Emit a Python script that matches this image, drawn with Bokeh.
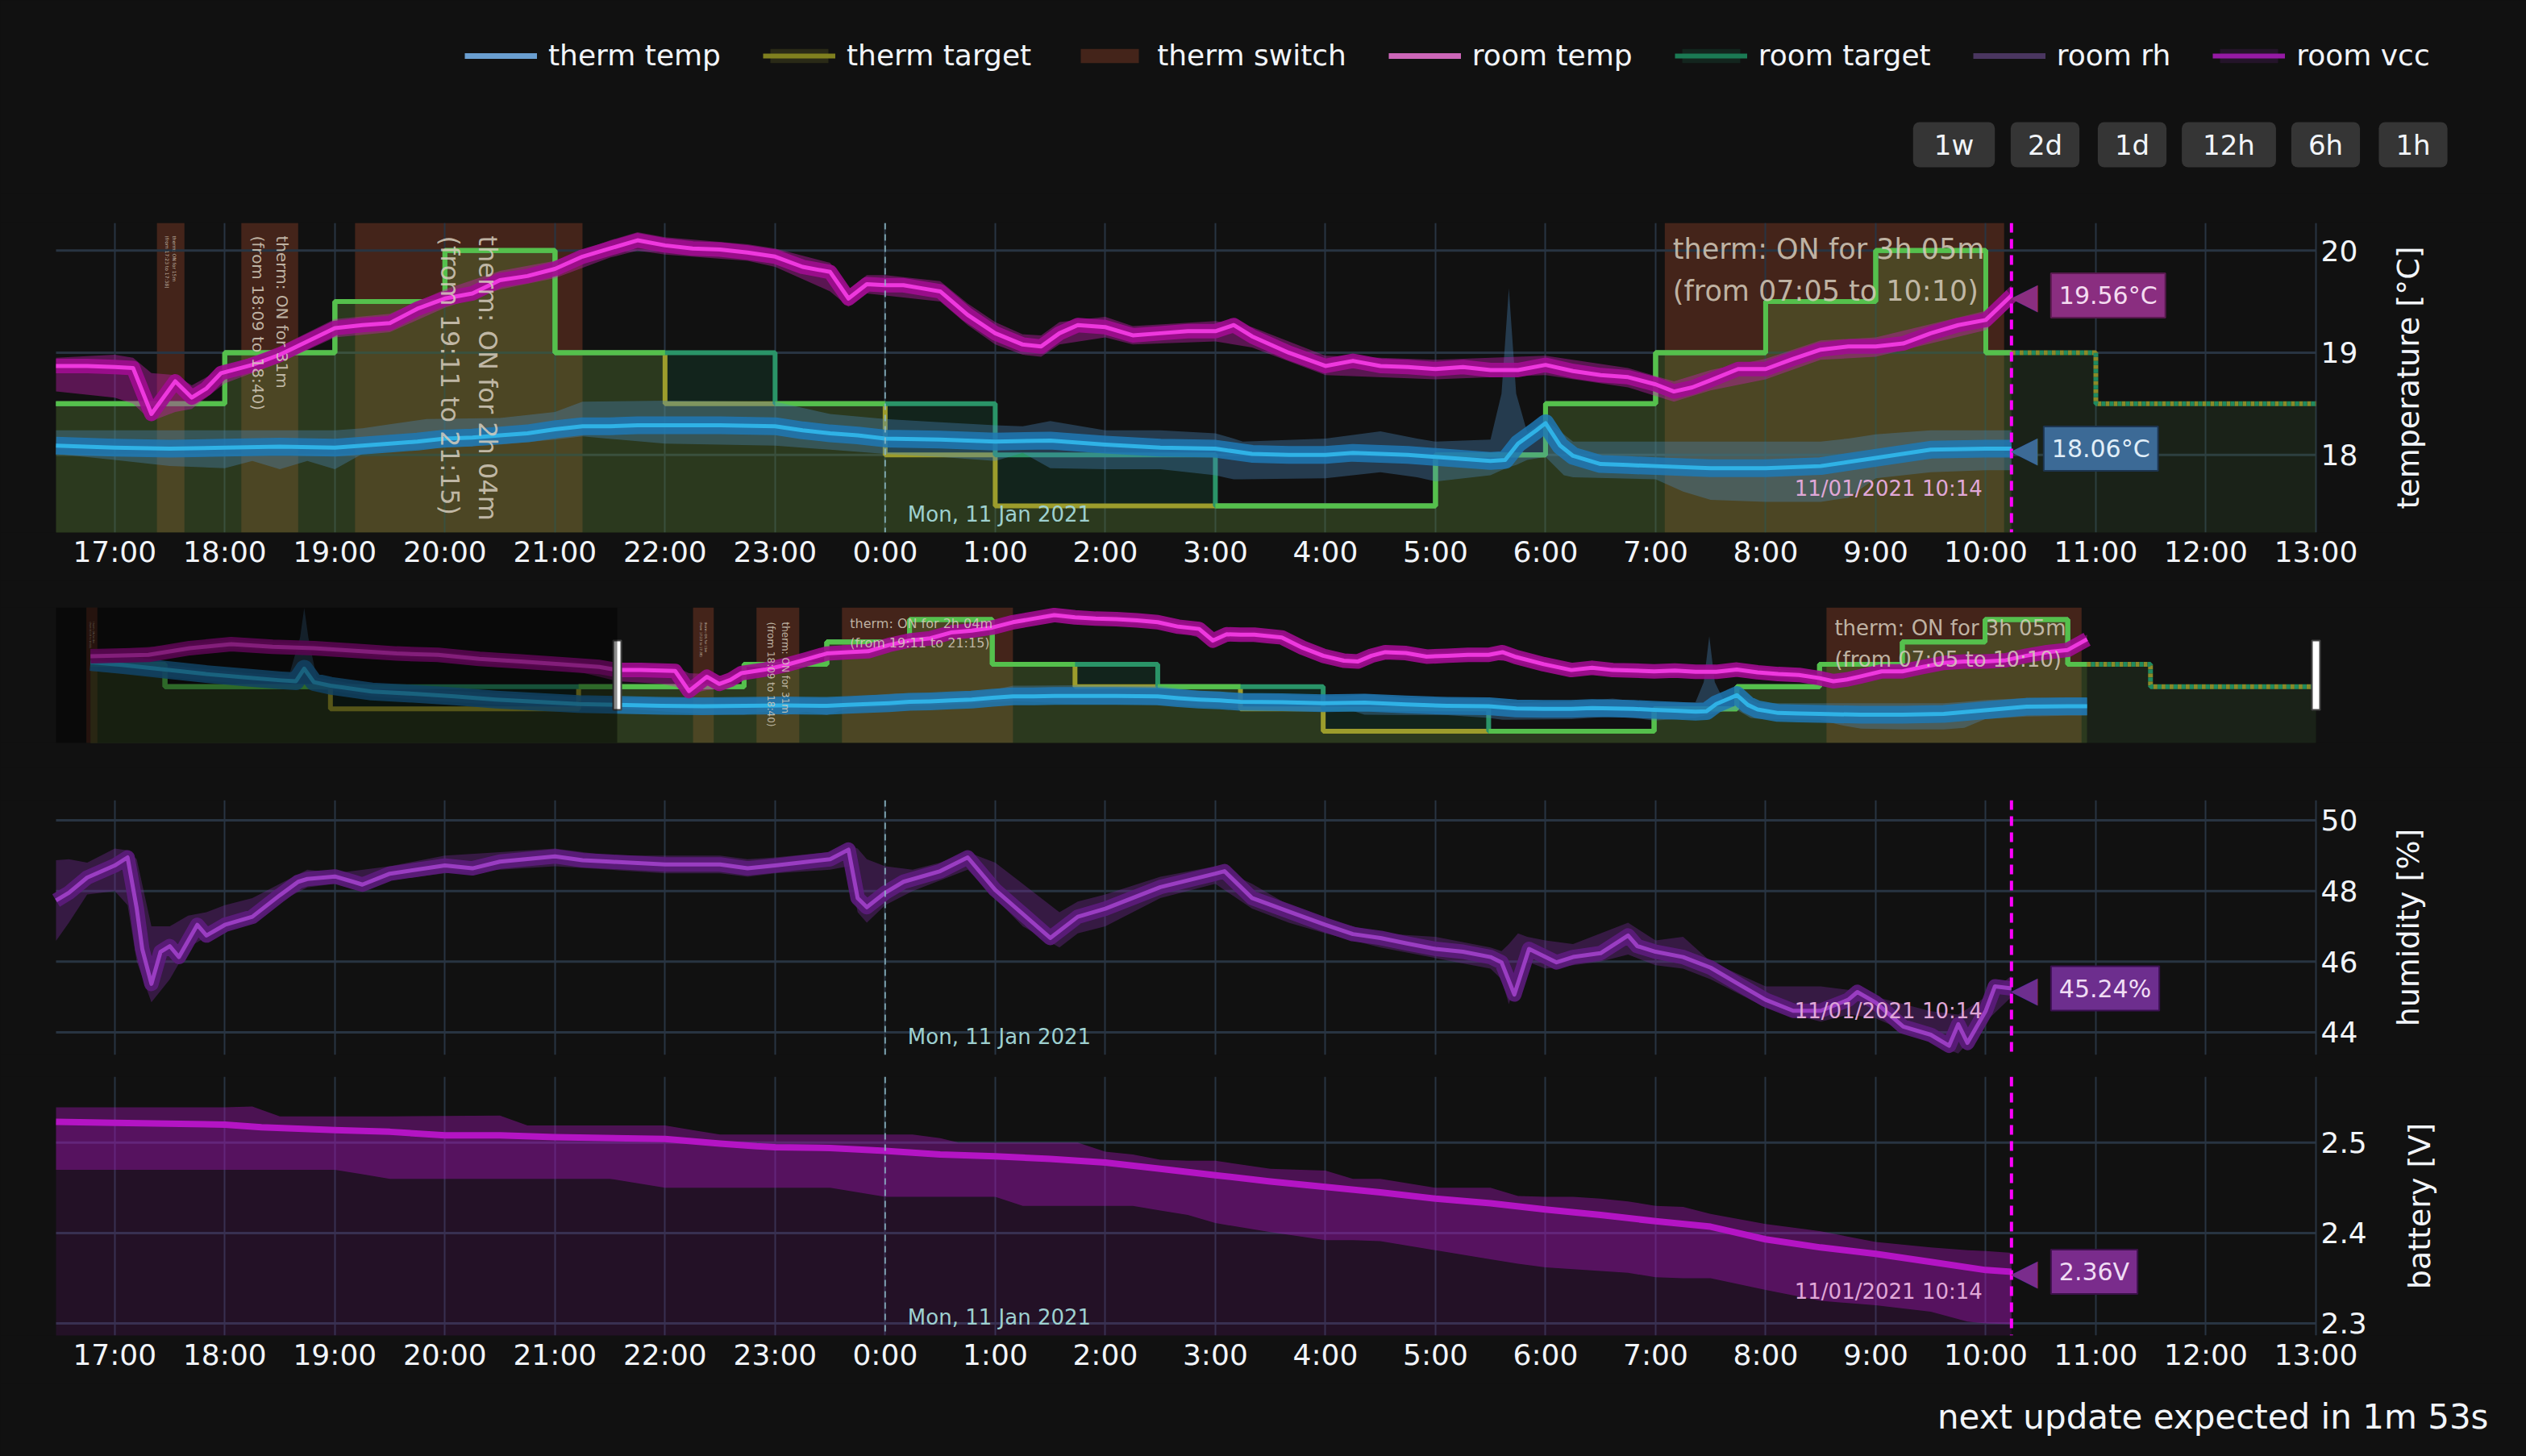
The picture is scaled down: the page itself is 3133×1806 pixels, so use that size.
import math
from datetime import datetime, timedelta
import numpy as np
from bokeh.plotting import figure
from bokeh.layouts import column
from bokeh.models import (Range1d, LinearAxis, FixedTicker, Grid, Span, BoxAnnotation,
                          Label, Legend, LegendItem)
from bokeh.core.properties import value
from bokeh.embed import file_html
from bokeh.resources import INLINE

# ============================ DATA ============================
BASE_DAY = datetime(2021, 1, 10)
NOW = "11 10:14"
DATA_START = "10 10:06"
MIDNIGHT = "11 00:00"
VIEW = ("10 16:28", "11 13:00")
NAV_VIEW = ("10 09:41", "11 13:00")

legend_labels = ["therm temp", "therm target", "therm switch", "room temp",
                 "room target", "room rh", "room vcc"]
range_buttons = ["1w", "2d", "1d", "12h", "6h", "1h"]
footer_text = "next update expected in 1m 53s"
axis_titles = ["temperature [°C]", "humidity [%]", "battery [V]"]
temp_ticks = [18, 19, 20]
rh_ticks = [44, 46, 48, 50]
vcc_ticks = [2.3, 2.4, 2.5]

room_temp = [("10:06", 19.18), ("10:48", 19.21), ("11:18", 19.36), ("11:48", 19.45), ("12:18", 19.39),
             ("12:48", 19.36), ("13:18", 19.30), ("13:48", 19.24), ("14:18", 19.21), ("14:48", 19.12),
             ("15:18", 19.06), ("15:48", 19.00), ("16:15", 18.94), ("16:28", 18.87), ("16:45", 18.87),
             ("17:00", 18.86), ("17:10", 18.85), ("17:20", 18.40), ("17:33", 18.72), ("17:42", 18.56),
             ("17:50", 18.65), ("17:58", 18.80), ("18:15", 18.88), ("18:30", 18.98), ("18:45", 19.11),
             ("19:00", 19.24), ("19:15", 19.27), ("19:30", 19.29), ("19:45", 19.43), ("20:00", 19.53),
             ("20:15", 19.58), ("20:30", 19.71), ("20:45", 19.75), ("21:00", 19.82), ("21:15", 19.94),
             ("21:30", 20.02), ("21:45", 20.10), ("22:00", 20.05), ("22:15", 20.02), ("22:30", 20.01),
             ("22:45", 19.98), ("23:00", 19.94), ("23:15", 19.84), ("23:30", 19.79), ("23:40", 19.53),
             ("23:50", 19.67), ("0:00", 19.66), ("0:10", 19.66), ("0:20", 19.63), ("0:30", 19.60),
             ("0:45", 19.37), ("1:00", 19.19), ("1:15", 19.08), ("1:25", 19.06), ("1:35", 19.19),
             ("1:45", 19.27), ("2:00", 19.25), ("2:15", 19.17), ("2:30", 19.19), ("2:45", 19.21),
             ("3:00", 19.21), ("3:10", 19.27), ("3:20", 19.16), ("3:40", 19.00), ("4:00", 18.87),
             ("4:15", 18.92), ("4:30", 18.87), ("4:45", 18.86), ("5:00", 18.84), ("5:15", 18.86),
             ("5:30", 18.83), ("5:45", 18.83), ("6:00", 18.88), ("6:15", 18.82), ("6:30", 18.78),
             ("6:45", 18.76), ("7:00", 18.69), ("7:10", 18.62), ("7:20", 18.66), ("7:30", 18.73),
             ("7:45", 18.84), ("8:00", 18.84), ("8:15", 18.94), ("8:30", 19.03), ("8:45", 19.06),
             ("9:00", 19.06), ("9:15", 19.09), ("9:30", 19.19), ("9:45", 19.27), ("10:00", 19.32),
             ("10:14", 19.56)]

room_temp_band = [("10:06", 19.05, 19.30), ("11:18", 19.25, 19.45), ("11:48", 19.35, 19.55),
                  ("12:48", 19.27, 19.45), ("13:48", 19.15, 19.33), ("14:48", 19.03, 19.22),
                  ("15:48", 18.92, 19.10), ("16:28", 18.62, 18.95), ("17:00", 18.56, 18.98),
                  ("17:10", 18.50, 18.95), ("17:20", 18.33, 18.80), ("17:33", 18.42, 18.78),
                  ("17:42", 18.45, 18.68), ("18:00", 18.70, 18.86), ("18:30", 18.90, 19.06),
                  ("19:00", 19.15, 19.33), ("19:30", 19.20, 19.38), ("20:00", 19.44, 19.62),
                  ("20:30", 19.62, 19.80), ("21:00", 19.73, 19.90), ("21:30", 19.93, 20.10),
                  ("21:45", 20.00, 20.18), ("22:00", 19.96, 20.13), ("22:45", 19.90, 20.06),
                  ("23:00", 19.84, 20.02), ("23:30", 19.60, 19.88), ("23:40", 19.45, 19.62),
                  ("23:50", 19.58, 19.76), ("0:00", 19.56, 19.76), ("0:30", 19.50, 19.70),
                  ("0:45", 19.27, 19.48), ("1:00", 19.08, 19.30), ("1:15", 18.98, 19.18),
                  ("1:25", 18.96, 19.17), ("1:35", 19.08, 19.30), ("2:00", 19.15, 19.35),
                  ("2:15", 19.08, 19.26), ("3:00", 19.11, 19.31), ("3:20", 19.05, 19.25),
                  ("4:00", 18.78, 18.97), ("5:00", 18.74, 18.93), ("6:00", 18.78, 18.97),
                  ("6:45", 18.66, 18.85), ("7:10", 18.52, 18.72), ("7:30", 18.63, 18.83),
                  ("8:00", 18.74, 18.94), ("8:30", 18.93, 19.12), ("9:00", 18.96, 19.15),
                  ("9:30", 19.09, 19.28), ("10:00", 19.22, 19.41), ("10:14", 19.46, 19.66)]

therm_temp = [("10:06", 19.05), ("10:30", 18.98), ("11:00", 18.88), ("11:30", 18.78), ("12:00", 18.70),
              ("12:24", 18.64), ("12:35", 18.62), ("12:41", 18.90), ("12:48", 18.60), ("13:00", 18.52),
              ("13:30", 18.39), ("14:00", 18.34), ("14:30", 18.28), ("15:00", 18.21), ("15:30", 18.16),
              ("16:00", 18.11), ("16:28", 18.09), ("17:00", 18.07), ("17:30", 18.06), ("18:00", 18.07),
              ("18:30", 18.08), ("19:00", 18.07), ("19:15", 18.09), ("19:30", 18.11), ("19:45", 18.13),
              ("20:00", 18.16), ("20:15", 18.17), ("20:30", 18.19), ("20:45", 18.21), ("21:00", 18.25),
              ("21:15", 18.28), ("21:30", 18.28), ("21:45", 18.29), ("22:00", 18.29), ("22:30", 18.29),
              ("23:00", 18.28), ("23:15", 18.24), ("23:30", 18.21), ("23:45", 18.19), ("0:00", 18.16),
              ("0:30", 18.15), ("1:00", 18.13), ("1:30", 18.14), ("2:00", 18.10), ("2:30", 18.07),
              ("3:00", 18.06), ("3:20", 18.01), ("3:40", 18.00), ("4:00", 18.00), ("4:15", 18.02),
              ("4:30", 18.01), ("4:45", 18.00), ("5:00", 17.98), ("5:15", 17.96), ("5:30", 17.94),
              ("5:38", 17.95), ("5:45", 18.11), ("5:55", 18.24), ("6:00", 18.31), ("6:08", 18.09),
              ("6:15", 17.99), ("6:30", 17.91), ("6:45", 17.90), ("7:00", 17.89), ("7:30", 17.87),
              ("8:00", 17.87), ("8:30", 17.89), ("9:00", 17.97), ("9:30", 18.05), ("10:00", 18.06),
              ("10:14", 18.06)]

therm_temp_band = [("10:06", 18.85, 19.15), ("11:00", 18.72, 18.98), ("12:00", 18.55, 18.80),
                   ("12:30", 18.50, 18.75), ("12:38", 18.50, 19.60), ("12:41", 18.55, 20.26),
                   ("12:44", 18.50, 19.60), ("12:50", 18.45, 18.70), ("13:30", 18.28, 18.50),
                   ("14:30", 18.15, 18.40), ("15:30", 18.05, 18.30), ("16:28", 18.01, 18.24),
                   ("17:00", 17.95, 18.24), ("17:30", 17.89, 18.24), ("18:00", 17.87, 18.24),
                   ("18:15", 17.94, 18.24), ("18:30", 17.86, 18.24), ("18:45", 17.94, 18.24),
                   ("19:00", 17.86, 18.24), ("19:15", 18.01, 18.26), ("19:30", 18.04, 18.30),
                   ("19:50", 18.06, 18.35), ("20:30", 18.10, 18.36), ("21:00", 18.15, 18.42),
                   ("21:15", 18.18, 18.52), ("22:00", 18.11, 18.53), ("23:00", 18.09, 18.52),
                   ("23:30", 18.05, 18.40), ("0:00", 18.01, 18.35), ("0:30", 17.98, 18.32),
                   ("1:00", 17.94, 18.29), ("1:15", 18.02, 18.28), ("1:30", 17.87, 18.33),
                   ("2:00", 17.86, 18.24), ("2:30", 17.86, 18.24), ("3:00", 17.80, 18.21),
                   ("3:10", 17.76, 18.16), ("3:15", 17.76, 18.13), ("4:00", 17.77, 18.16),
                   ("4:30", 17.83, 18.23), ("4:50", 17.78, 18.16), ("5:00", 17.74, 18.13),
                   ("5:30", 17.80, 18.15), ("5:36", 17.85, 18.60), ("5:40", 17.88, 19.63),
                   ("5:44", 17.90, 18.60), ("5:50", 17.95, 18.22), ("6:00", 17.98, 18.34),
                   ("6:10", 17.80, 18.20), ("6:15", 17.78, 18.13), ("7:00", 17.76, 18.13),
                   ("7:15", 17.64, 18.13), ("7:30", 17.56, 18.13), ("8:00", 17.54, 18.13),
                   ("8:30", 17.54, 18.13), ("8:45", 17.58, 18.16), ("9:00", 17.77, 18.20),
                   ("9:30", 17.83, 18.24), ("10:00", 17.85, 18.24), ("10:14", 17.85, 18.24)]

target_times = ["10:00", "11:00", "12:00", "13:00", "14:00", "15:00", "16:00", "17:00", "18:00",
                "19:00", "20:00", "21:00", "22:00", "23:00", "0:00", "1:00", "2:00", "3:00",
                "4:00", "5:00", "6:00", "7:00", "8:00", "9:00", "10:00", "11:00", "12:00"]
therm_target = [19.0, 18.5, 18.5, 18.0, 18.0, 18.0, 18.5, 18.5, 19.0, 19.5, 20.0, 19.0, 18.5, 18.5,
                18.0, 17.5, 17.5, 17.5, 17.5, 18.0, 18.5, 19.0, 19.5, 20.0, 19.0, 18.5, 18.5]
room_target = [19.0, 18.5, 18.5, 18.5, 18.5, 18.5, 18.5, 18.5, 19.0, 19.5, 20.0, 19.0, 19.0, 18.5,
               18.5, 18.0, 18.0, 17.5, 17.5, 18.0, 18.5, 19.0, 19.5, 20.0, 19.0, 18.5, 18.5]

therm_switch = [("10 10:03", "10 10:11"), ("10 17:23", "10 17:38"), ("10 18:09", "10 18:40"),
                ("10 19:11", "10 21:15"), ("11 07:05", "11 10:10")]

room_rh = [("16:28", 47.73), ("16:35", 47.95), ("16:45", 48.38), ("17:00", 48.72), ("17:07", 48.95),
           ("17:12", 47.50), ("17:15", 46.36), ("17:20", 45.37), ("17:25", 46.28), ("17:30", 46.44),
           ("17:35", 46.13), ("17:45", 47.04), ("17:50", 46.74), ("18:00", 47.04), ("18:15", 47.27),
           ("18:30", 47.88), ("18:40", 48.26), ("18:45", 48.34), ("19:00", 48.41), ("19:10", 48.26),
           ("19:15", 48.18), ("19:30", 48.49), ("20:00", 48.72), ("20:15", 48.64), ("20:30", 48.83),
           ("21:00", 48.98), ("21:15", 48.87), ("21:30", 48.83), ("22:00", 48.75), ("22:30", 48.75),
           ("22:45", 48.64), ("23:00", 48.72), ("23:30", 48.90), ("23:40", 49.17), ("23:45", 47.80),
           ("23:50", 47.54), ("0:00", 47.95), ("0:10", 48.26), ("0:30", 48.56), ("0:45", 48.95),
           ("1:00", 48.03), ("1:15", 47.35), ("1:30", 46.67), ("1:45", 47.27), ("2:00", 47.50),
           ("2:30", 48.11), ("3:00", 48.49), ("3:05", 48.56), ("3:20", 47.80), ("3:40", 47.42),
           ("4:00", 47.04), ("4:15", 46.78), ("4:30", 46.67), ("4:45", 46.51), ("5:00", 46.36),
           ("5:15", 46.28), ("5:30", 46.13), ("5:36", 45.98), ("5:43", 45.07), ("5:51", 46.36),
           ("6:06", 45.98), ("6:15", 46.13), ("6:30", 46.24), ("6:45", 46.74), ("6:50", 46.44),
           ("7:00", 46.28), ("7:15", 46.13), ("7:30", 45.83), ("7:45", 45.37), ("8:00", 44.92),
           ("8:15", 44.61), ("8:30", 44.61), ("8:45", 44.92), ("8:50", 45.14), ("9:00", 44.84),
           ("9:15", 44.16), ("9:30", 43.93), ("9:40", 43.62), ("9:45", 44.23), ("9:50", 43.70),
           ("10:00", 44.61), ("10:05", 45.30), ("10:14", 45.24)]

room_rh_band = [("16:28", 46.59, 48.87), ("16:35", 47.1, 48.9), ("16:45", 47.9, 48.8), ("17:00", 48.0, 49.2),
                ("17:07", 47.6, 49.15), ("17:12", 46.0, 48.9), ("17:20", 44.85, 47.0), ("17:30", 45.5, 47.0),
                ("17:40", 46.4, 47.3), ("17:50", 46.7, 47.4), ("18:00", 46.9, 47.6), ("18:15", 47.1, 47.8),
                ("18:30", 47.7, 48.2), ("18:45", 48.1, 48.6), ("19:00", 48.2, 48.5), ("19:30", 48.3, 48.7),
                ("20:00", 48.5, 49.0), ("20:30", 48.6, 49.1), ("21:00", 48.7, 49.2), ("21:30", 48.6, 49.0),
                ("22:00", 48.5, 49.0), ("22:30", 48.5, 49.0), ("22:45", 48.4, 48.9), ("23:00", 48.5, 48.95),
                ("23:30", 48.6, 49.1), ("23:40", 48.7, 49.3), ("23:45", 47.4, 49.2), ("23:50", 47.1, 48.9),
                ("0:00", 47.6, 48.7), ("0:15", 48.0, 48.6), ("0:30", 48.3, 48.8), ("0:45", 48.6, 49.1),
                ("1:00", 47.8, 48.8), ("1:15", 47.0, 48.2), ("1:35", 46.4, 47.4), ("1:45", 46.8, 47.7),
                ("2:00", 47.0, 47.9), ("2:30", 47.8, 48.4), ("3:00", 48.2, 48.7), ("3:20", 47.5, 48.2),
                ("3:40", 47.1, 47.6), ("4:00", 46.8, 47.2), ("4:30", 46.4, 46.8), ("5:00", 46.1, 46.7),
                ("5:30", 45.8, 46.4), ("5:36", 45.5, 46.3), ("5:40", 44.8, 46.5), ("5:45", 45.6, 46.8),
                ("5:50", 46.0, 46.7), ("6:00", 45.8, 46.6), ("6:15", 45.9, 46.5), ("6:30", 46.0, 46.8),
                ("6:45", 46.2, 47.1), ("7:00", 45.9, 46.6), ("7:15", 45.8, 46.7), ("7:30", 45.5, 46.0),
                ("8:00", 44.7, 45.3), ("8:30", 44.3, 45.3), ("8:45", 44.5, 45.2), ("9:00", 44.4, 45.0),
                ("9:30", 43.7, 44.6), ("9:45", 43.4, 44.5), ("10:00", 44.3, 45.0), ("10:14", 45.0, 45.6)]

room_vcc = [("16:28", 2.523), ("17:00", 2.522), ("18:00", 2.520), ("18:20", 2.517), ("19:00", 2.514),
            ("19:30", 2.512), ("20:00", 2.508), ("20:30", 2.508), ("21:00", 2.506), ("22:00", 2.504),
            ("22:30", 2.499), ("22:50", 2.496), ("23:00", 2.495), ("23:30", 2.494), ("0:00", 2.491),
            ("0:30", 2.487), ("1:00", 2.485), ("1:30", 2.482), ("2:00", 2.478), ("2:30", 2.471),
            ("3:00", 2.464), ("3:30", 2.457), ("4:00", 2.451), ("4:30", 2.445), ("5:00", 2.438),
            ("5:30", 2.433), ("6:00", 2.426), ("6:30", 2.420), ("7:00", 2.413), ("7:30", 2.407),
            ("8:00", 2.393), ("8:30", 2.384), ("9:00", 2.377), ("9:30", 2.368), ("10:00", 2.359),
            ("10:14", 2.357)]

room_vcc_band = [("16:28", 2.470, 2.539), ("18:00", 2.470, 2.539), ("18:15", 2.470, 2.540),
                 ("18:30", 2.470, 2.529), ("19:00", 2.470, 2.529), ("19:15", 2.465, 2.529),
                 ("19:30", 2.460, 2.529), ("20:30", 2.460, 2.530), ("20:45", 2.460, 2.519),
                 ("21:30", 2.460, 2.519), ("22:00", 2.450, 2.519), ("22:15", 2.450, 2.514),
                 ("22:30", 2.450, 2.509), ("23:30", 2.450, 2.509), ("0:00", 2.440, 2.509),
                 ("0:15", 2.440, 2.509), ("0:30", 2.440, 2.505), ("0:40", 2.440, 2.500),
                 ("1:00", 2.440, 2.500), ("1:15", 2.430, 2.500), ("1:45", 2.430, 2.500),
                 ("2:00", 2.430, 2.490), ("2:15", 2.430, 2.487), ("2:30", 2.425, 2.481),
                 ("2:45", 2.420, 2.480), ("3:00", 2.411, 2.480), ("3:30", 2.401, 2.471),
                 ("4:00", 2.392, 2.469), ("4:15", 2.392, 2.460), ("4:30", 2.391, 2.460),
                 ("5:00", 2.381, 2.450), ("5:30", 2.371, 2.450), ("5:45", 2.366, 2.441),
                 ("6:00", 2.362, 2.440), ("6:15", 2.360, 2.440), ("6:30", 2.358, 2.438),
                 ("6:45", 2.356, 2.435), ("7:00", 2.351, 2.430), ("7:15", 2.350, 2.429),
                 ("7:30", 2.350, 2.421), ("8:00", 2.337, 2.410), ("8:30", 2.325, 2.402),
                 ("9:00", 2.320, 2.390), ("9:30", 2.313, 2.384), ("9:50", 2.302, 2.381),
                 ("10:00", 2.300, 2.380), ("10:14", 2.299, 2.378)]

# ============================ HELPERS ============================
def t_of(s):
    d, hm = s.split()
    h, m = hm.split(":")
    return (int(d) - 10) * 24 + int(h) + int(m) / 60.0


def seq_hours(times, day=10):
    out, prev = [], None
    for s in times:
        h, m = s.split(":")
        v = int(h) + int(m) / 60.0
        if prev is not None and v < prev:
            day += 1
        prev = v
        out.append((day - 10) * 24 + v)
    return np.array(out)


def cols(rows):
    x = seq_hours([r[0] for r in rows])
    return [x] + [np.array([r[i] for r in rows]) for i in range(1, len(rows[0]))]


def clip(lo, x, *ys):
    m = x >= lo - 1e-9
    return [x[m]] + [y[m] for y in ys]


def to_dt(h):
    return BASE_DAY + timedelta(hours=h)


now = t_of(NOW)
start = t_of(DATA_START)
midnight = t_of(MIDNIGHT)
xv = (t_of(VIEW[0]), t_of(VIEW[1]))
xn = (t_of(NAV_VIEW[0]), t_of(NAV_VIEW[1]))
tg_h = seq_hours(target_times)

rt_x, rt_y = cols(room_temp)
rtb_x, rtb_lo, rtb_hi = cols(room_temp_band)
tt_x, tt_y = cols(therm_temp)
ttb_x, ttb_lo, ttb_hi = cols(therm_temp_band)
rh_x, rh_y = cols(room_rh)
rhb_x, rhb_lo, rhb_hi = cols(room_rh_band)
vc_x, vc_y = cols(room_vcc)
vcb_x, vcb_lo, vcb_hi = cols(room_vcc_band)
sw = [(t_of(a), t_of(b), a.split()[1], b.split()[1]) for a, b in therm_switch]


def step_xy(vals, lo, hi):
    xs, ys = [], []
    for h, v in zip(tg_h, vals):
        a, b = max(h, lo), min(h + 1, hi)
        if b > a:
            xs += [a, b]
            ys += [v, v]
    return xs, ys


def equal_runs(lo, hi):
    runs_x, runs_y, cx, cy = [], [], [], []
    for h, a, b in zip(tg_h, therm_target, room_target):
        l, r = max(h, lo), min(h + 1, hi)
        if r <= l:
            continue
        if a == b:
            cx += [l, r]
            cy += [a, a]
        elif cx:
            runs_x.append(cx)
            runs_y.append(cy)
            cx, cy = [], []
    if cx:
        runs_x.append(cx)
        runs_y.append(cy)
    return runs_x, runs_y


# ============================ STYLE ============================
W = 3133
PL, PR = 69, 261          # plot-area margins inside each full-width frame
PW = W - PL - PR
BG = "#111111"
GRID = "#283442"
FONT = "DejaVu Sans"
TXT = "#f2f5fa"
Y_TEMP = (17.24, 20.27)
Y_RH = (43.36, 50.57)
Y_VCC = (2.2866, 2.573)

THERM_LINE, ROOM_LINE, BOTH_LINE = "#9c9c2c", "#2a9468", "#55c04c"
THERM_FILL, ROOM_FILL = "#808028", "#1a7a50"
SWITCH_C = "#44241a"


def padded(xr):
    s = PW / (xr[1] - xr[0])
    return (xr[0] - PL / s, xr[1] + PR / s), s


def panel(height, xr, yr, top, bottom):
    (a, b), _ = padded(xr)
    return figure(width=W, height=height, x_range=Range1d(a, b), y_range=Range1d(*yr),
                  x_axis_type=None, y_axis_type=None, output_backend="svg",
                  toolbar_location=None, min_border_left=0, min_border_right=0,
                  min_border_top=top, min_border_bottom=bottom,
                  background_fill_color=BG, border_fill_color=BG, outline_line_color=None)


hour_ticks = list(range(17, 38))


def add_grid_axes(p, yr, yticks, ylabel, xlabels, title_dx):
    xt = FixedTicker(ticks=hour_ticks)
    p.add_layout(Grid(dimension=0, ticker=xt, grid_line_color=GRID, grid_line_width=2))
    p.segment(x0=[xv[0]] * len(yticks), x1=[xv[1]] * len(yticks), y0=yticks, y1=yticks,
              line_color=GRID, line_width=3, level="underlay")
    if xlabels:
        ax = LinearAxis(ticker=xt, major_label_overrides={h: f"{h % 24}:00" for h in hour_ticks},
                        axis_line_color=None, major_tick_line_color=None, minor_tick_line_color=None,
                        major_tick_out=0, major_tick_in=0,
                        major_label_text_font=FONT, major_label_text_font_size="36px",
                        major_label_text_color=TXT, major_label_standoff=3)
        p.add_layout(ax, "below")
    p.text(x=[xv[1]] * len(yticks), y=yticks, text=[f"{t:g}" for t in yticks], x_offset=6,
           text_align="left", text_baseline="middle", text_font=value(FONT),
           text_font_size=value("36px"), text_color=TXT)
    p.text(x=[xv[1]], y=[(yr[0] + yr[1]) / 2], text=[ylabel], x_offset=title_dx,
           angle=math.pi / 2, text_align="center", text_baseline="middle",
           text_font=value(FONT), text_font_size=value("38px"), text_color=TXT)


def draw_temp(p, xr, yr, frame_h, ann_cfg, v_off, h_off):
    _, ppx = padded(xr)
    ppy = frame_h / (yr[1] - yr[0])
    lo = max(start, xr[0])
    for a, b, _, _ in sw:
        if b > xr[0]:
            p.add_layout(BoxAnnotation(left=a, right=b, fill_color=SWITCH_C, fill_alpha=1.0,
                                       line_alpha=0, level="image"))
    rx, ry = step_xy(room_target, lo, now)
    tx, ty = step_xy(therm_target, lo, now)
    rxf, ryf = step_xy(room_target, now, xr[1])
    txf, tyf = step_xy(therm_target, now, xr[1])
    p.varea(x=rx, y1=0, y2=ry, fill_color=ROOM_FILL, fill_alpha=0.19)
    p.varea(x=tx, y1=0, y2=ty, fill_color=THERM_FILL, fill_alpha=0.23)
    p.varea(x=rxf, y1=0, y2=ryf, fill_color=ROOM_FILL, fill_alpha=0.10)
    p.varea(x=txf, y1=0, y2=tyf, fill_color=THERM_FILL, fill_alpha=0.08)
    p.line(tx, ty, line_color=THERM_LINE, line_width=6)
    p.line(rx, ry, line_color=ROOM_LINE, line_width=6)
    bx, by = equal_runs(lo, now)
    p.multi_line(bx, by, line_color=BOTH_LINE, line_width=6)
    p.line(txf, tyf, line_color="#8a8a28", line_width=6, line_dash="5 5")
    p.line(rxf, ryf, line_color="#1f8a60", line_width=6, line_dash="5 5", line_dash_offset=5)
    # therm temp
    bxs, blo, bhi = clip(xr[0], ttb_x, ttb_lo, ttb_hi)
    lx, ly = clip(xr[0], tt_x, tt_y)
    p.varea(x=bxs, y1=blo, y2=bhi, fill_color="#4a8ac0", fill_alpha=0.35)
    p.line(lx, ly, line_color="#1f78b4", line_width=22, line_alpha=0.85, line_join="round")
    p.line(lx, ly, line_color="#2fb2e6", line_width=5, line_join="round")
    # room temp
    bxs, blo, bhi = clip(xr[0], rtb_x, rtb_lo, rtb_hi)
    lx, ly = clip(xr[0], rt_x, rt_y)
    p.varea(x=bxs, y1=blo, y2=bhi, fill_color="#c81eb4", fill_alpha=0.40)
    p.line(lx, ly, line_color="#a00c90", line_width=18, line_alpha=0.9, line_join="round")
    p.line(lx, ly, line_color="#ee38de", line_width=5, line_join="round")
    # switch annotations
    for (a, b, sa, sb), cfg in zip(sw, ann_cfg):
        if cfg is None or b < xr[0]:
            continue
        mins = round((b - a) * 60)
        dur = f"{mins // 60}h {mins % 60:02d}m" if mins >= 60 else f"{mins}m"
        txt = f"therm: ON for {dur}\n(from {sa} to {sb})"
        orient, fs = cfg
        if orient == "v":
            p.text(x=[(a + b) / 2], y=[yr[1] - v_off / ppy], text=[txt], angle=-math.pi / 2,
                   text_align="left", text_baseline="middle", text_font=value(FONT),
                   text_font_size=value(f"{fs}px"), text_color="#d6cdbd", text_alpha=0.85,
                   text_line_height=1.25)
        else:
            p.text(x=[a + 10 / ppx], y=[yr[1] - h_off / ppy], text=[txt], text_align="left",
                   text_baseline="top", text_font=value(FONT), text_font_size=value(f"{fs}px"),
                   text_color="#d6cdbd", text_alpha=0.85, text_line_height=1.3)


def add_time_marks(p, yr):
    p.add_layout(Span(location=midnight, dimension="height", line_color="#8fbcc8",
                      line_dash="8 6", line_width=2, line_alpha=0.8))
    p.add_layout(Span(location=now, dimension="height", line_color="#ff00ff",
                      line_dash="12 8", line_width=4))
    p.add_layout(Label(x=midnight, y=yr[0], x_offset=28, y_offset=8,
                       text=to_dt(midnight).strftime("%a, %d %b %Y"), text_align="left",
                       text_baseline="bottom", text_font=FONT, text_font_size="26px",
                       text_color="#9ed0d0"))
    p.add_layout(Label(x=now, y=yr[0], x_offset=-36, y_offset=40,
                       text=to_dt(now).strftime("%d/%m/%Y %H:%M"), text_align="right",
                       text_baseline="bottom", text_font=FONT, text_font_size="26px",
                       text_color="#e0a8d8"))


def value_box(p, y, text, bg, border, fg, dx):
    p.add_layout(Label(x=now, y=y, text="\u25c0", text_align="left", text_baseline="middle",
                       text_font=FONT, text_font_size="44px", text_color=bg, x_offset=-1))
    p.add_layout(Label(x=now, y=y, text=text, x_offset=dx + 12, text_align="left",
                       text_baseline="middle", text_font=FONT, text_font_size="30px",
                       text_color=fg, background_fill_color=bg, border_line_color=border,
                       border_line_width=2, padding=10))


def flat_fig(height):
    return figure(width=W, height=height, x_range=Range1d(0, W), y_range=Range1d(height, 0),
                  x_axis_type=None, y_axis_type=None, output_backend="svg",
                  toolbar_location=None, min_border=0, background_fill_color=BG,
                  border_fill_color=BG, outline_line_color=None)


# ============================ HEADER ============================
p_head = flat_fig(240)
OFF = dict(x=[-5000, -4990], y=[-50, -50])
OFFA = dict(x=[-5000, -4990], y1=[-50, -50], y2=[-40, -40])
lg = {}
lg["therm temp"] = [p_head.line(**OFF, line_color="#6a9ed0", line_width=7)]
lg["therm target"] = [p_head.varea(**OFFA, fill_color="#2a2a17"),
                      p_head.line(**OFF, line_color="#80801f", line_width=6)]
lg["therm switch"] = [p_head.rect(x=[-5000], y=[-50], width=1, height=1, fill_color=SWITCH_C,
                                  line_color=None)]
lg["room temp"] = [p_head.line(**OFF, line_color="#cc66b8", line_width=7)]
lg["room target"] = [p_head.varea(**OFFA, fill_color="#13251e"),
                     p_head.line(**OFF, line_color="#1b7a54", line_width=6)]
lg["room rh"] = [p_head.line(**OFF, line_color="#4a3660", line_width=7)]
lg["room vcc"] = [p_head.varea(**OFFA, fill_color="#24142a"),
                  p_head.line(**OFF, line_color="#961aa5", line_width=6)]
legend = Legend(items=[LegendItem(label=l, renderers=lg[l]) for l in legend_labels],
                orientation="horizontal", location=(576, 151), glyph_width=90, glyph_height=22,
                label_standoff=14, spacing=52, padding=0, margin=0, label_height=40, nrows=1,
                label_text_font=FONT, label_text_font_size="36px", label_text_color=TXT,
                background_fill_alpha=0, border_line_alpha=0)
p_head.add_layout(legend)

btn_w = [102, 92, 92, 116, 92, 93]
lefts, cur = [], 3039
for w in reversed(btn_w):
    lefts.insert(0, cur - w)
    cur -= w + 16
for lbl, l, w in zip(range_buttons, lefts, btn_w):
    p_head.add_layout(Label(x=l + w / 2, y=179, text=lbl, text_align="center",
                            text_baseline="middle", text_font=FONT, text_font_size="34px",
                            text_color=TXT, background_fill_color="#353535",
                            padding=((w - 14 * len(lbl) - 22) // 2, 8), border_radius=8))

# ============================ TOP (temperature) ============================
p_top = panel(480, xv, Y_TEMP, 36, 60)
add_grid_axes(p_top, Y_TEMP, temp_ticks, axis_titles[0], True, 114)
draw_temp(p_top, xv, Y_TEMP, 384, [None, ("v", 6), ("v", 20), ("v", 32), ("h", 35)], 16, 12)
add_time_marks(p_top, Y_TEMP)
value_box(p_top, rt_y[-1], f"{rt_y[-1]:.2f}°C", "#8a2e80", "#5a1a50", "#f4dcf0", 37)
value_box(p_top, tt_y[-1], f"{tt_y[-1]:.2f}°C", "#3c6a96", "#1d3550", "#e0eef8", 28)

# ============================ NAVIGATOR ============================
p_nav = panel(231, xn, Y_TEMP, 33, 30)
draw_temp(p_nav, xn, Y_TEMP, 168, [("v", 3), ("v", 4), ("v", 12), ("h", 16), ("h", 26)], 18, 10)
p_nav.add_layout(BoxAnnotation(left=xn[0], right=xv[0], fill_color="black", fill_alpha=0.45,
                               line_alpha=0, level="overlay"))
p_nav.rect(x=[xv[0], xv[1]], y=[(Y_TEMP[0] + Y_TEMP[1]) / 2] * 2, width=10, height=86,
           width_units="screen", height_units="screen", fill_color="white",
           line_color="#444444", line_width=2)

# ============================ HUMIDITY ============================
p_rh = panel(367, xv, Y_RH, 41, 10)
add_grid_axes(p_rh, Y_RH, rh_ticks, axis_titles[1], False, 114)
p_rh.varea(x=rhb_x, y1=rhb_lo, y2=rhb_hi, fill_color="#7a2aa0", fill_alpha=0.35)
p_rh.line(rh_x, rh_y, line_color="#5c1c7c", line_width=18, line_alpha=0.9, line_join="round")
p_rh.line(rh_x, rh_y, line_color="#9a3dc2", line_width=5, line_join="round")
add_time_marks(p_rh, Y_RH)
value_box(p_rh, rh_y[-1], f"{rh_y[-1]:.2f}%", "#6d2e8e", "#3a1050", "#f0dcf4", 37)

# ============================ BATTERY ============================
p_vcc = panel(398, xv, Y_VCC, 17, 60)
add_grid_axes(p_vcc, Y_VCC, vcc_ticks, axis_titles[2], True, 128)
p_vcc.varea(x=vc_x, y1=0, y2=vc_y, fill_color="#aa14be", fill_alpha=0.124)
p_vcc.varea(x=vcb_x, y1=vcb_lo, y2=vcb_hi, fill_color="#aa14be", fill_alpha=0.38)
p_vcc.line(vc_x, vc_y, line_color="#b414c4", line_width=8, line_join="round")
add_time_marks(p_vcc, Y_VCC)
value_box(p_vcc, vc_y[-1], f"{vc_y[-1]:.2f}V", "#7a2c8c", "#3a1048", "#f0dcf4", 37)

# ============================ FOOTER ============================
p_foot = flat_fig(90)
p_foot.text(x=[3086], y=[41], text=[footer_text], text_align="right", text_baseline="middle",
            text_font=value(FONT), text_font_size=value("42px"), text_color=TXT)

layout = column(p_head, p_top, p_nav, p_rh, p_vcc, p_foot, spacing=0)
html = file_html(layout, INLINE, title="thermostat")
html = html.replace("<head>", "<head><style>html,body{margin:0;padding:0;background:#111111;}</style>", 1)
open("out.html", "w").write(html)
